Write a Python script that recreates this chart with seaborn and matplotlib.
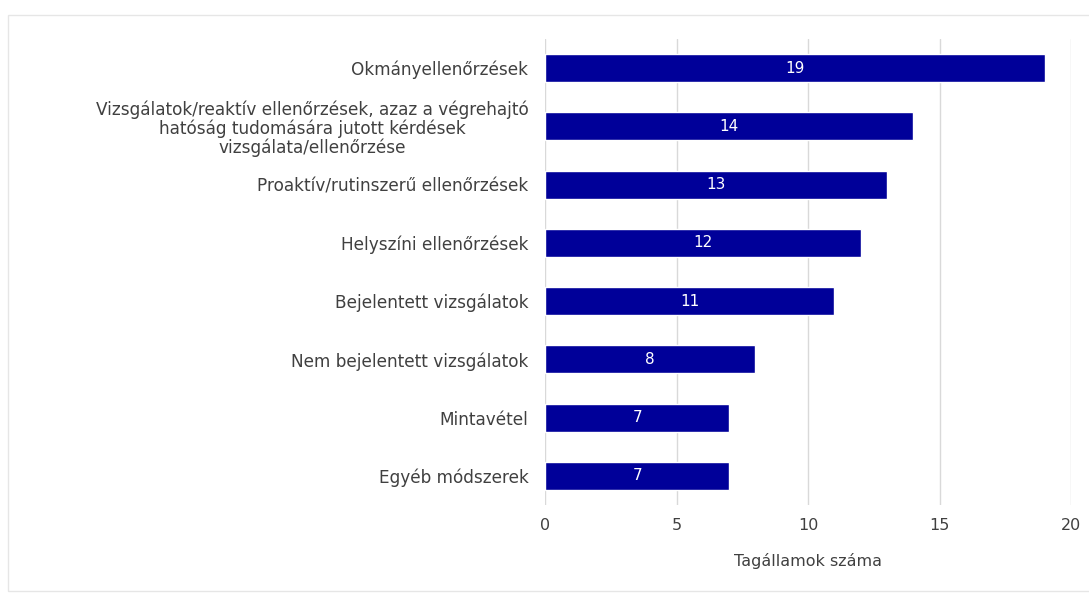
import matplotlib
matplotlib.use("Agg")
import matplotlib.pyplot as plt
import seaborn as sns
import pandas as pd
from matplotlib.patches import Rectangle

# Data
methods = [
    "Okmányellenőrzések",
    "Vizsgálatok/reaktív ellenőrzések, azaz a végrehajtó\nhatóság tudomására jutott kérdések\nvizsgálata/ellenőrzése",
    "Proaktív/rutinszerű ellenőrzések",
    "Helyszíni ellenőrzések",
    "Bejelentett vizsgálatok",
    "Nem bejelentett vizsgálatok",
    "Mintavétel",
    "Egyéb módszerek",
]
counts = [19, 14, 13, 12, 11, 8, 7, 7]
x_ticks = [0, 5, 10, 15, 20]

df = pd.DataFrame({"method": methods, "count": counts})

sns.set_theme(style="white")
plt.rcParams['font.family'] = ['DejaVu Sans']
text_color = "#404040"

fig = plt.figure(figsize=(10.89, 5.94), dpi=100)
ax = fig.add_axes([0.5005, 0.1498, 0.483, 0.7845])

sns.barplot(data=df, x="count", y="method", color="#000099", width=0.48,
            saturation=1, ax=ax, zorder=3)

# value labels in the bars
for i, v in enumerate(counts):
    ax.text(v / 2, i, str(v), color="white", ha="center", va="center", fontsize=11)

ax.set_xlim(0, 20)
ax.set_xticks(x_ticks)
ax.grid(axis="x", color="#d9d9d9", linewidth=1, zorder=0)
for s in ax.spines.values():
    s.set_visible(False)
ax.tick_params(axis="y", length=0, labelsize=12.2, colors=text_color, pad=12)
ax.tick_params(axis="x", length=0, labelsize=11.5, colors=text_color, pad=9)
for lab in ax.get_yticklabels():
    lab.set_multialignment("center")
    lab.set_linespacing(1.05)
ax.set_ylabel("")
ax.set_xlabel("Tagállamok száma", fontsize=11.5, color=text_color, labelpad=15)

# light frame around the chart
fig.patches.append(Rectangle((8 / 1089, 0.005), 1.0, 1 - 15 / 594 - 0.005,
                             transform=fig.transFigure, fill=False,
                             edgecolor="#e6e6e6", linewidth=1))

fig.savefig("out.png", dpi=100)
